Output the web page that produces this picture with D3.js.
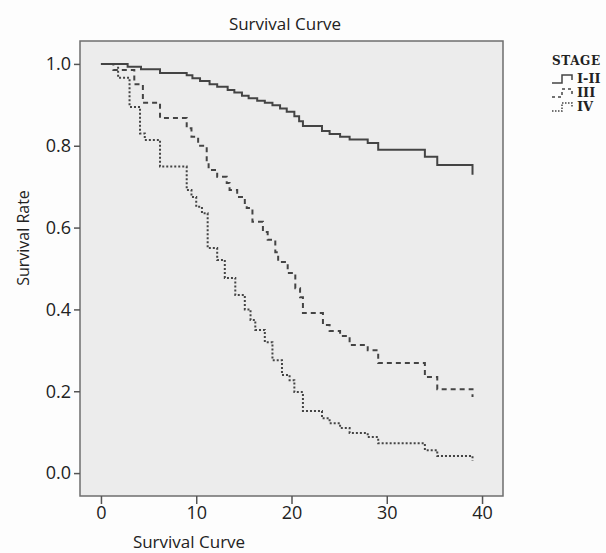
<!DOCTYPE html>
<html>
<head>
<meta charset="utf-8">
<script src="https://cdn.jsdelivr.net/npm/d3@7"></script>
<style>
  body { margin: 0; background: #fdfdfd; }
  svg { display: block; }
  .tick text { font-family: "Open Sans", sans-serif; font-size: 18px; fill: #222; }
</style>
</head>
<body>
<script>
'use strict';

// chart values
const chartTitle = "Survival Curve";
const xTitle = "Survival Curve";
const yTitle = "Survival Rate";
const xTicks = [0, 10, 20, 30, 40];
const yTicks = [0.0, 0.2, 0.4, 0.6, 0.8, 1.0];
const legendTitle = "STAGE";
const stages = ["I-II", "III", "IV"];

// stage I-II (solid)
const timeI = [0, 2.8, 4.2, 6.2, 9.0, 9.6, 10.4, 11.4, 12.2, 13.3, 14.0, 14.8, 15.5, 16.4, 17.2, 18.0, 18.8, 19.5, 20.3, 20.8, 21.2, 23.2, 24.0, 25.1, 26.1, 28.0, 29.1, 34.0, 35.3, 39.0];
const survI = [1.0, 0.993, 0.987, 0.978, 0.972, 0.965, 0.958, 0.950, 0.944, 0.936, 0.930, 0.922, 0.916, 0.910, 0.905, 0.899, 0.891, 0.883, 0.872, 0.860, 0.848, 0.836, 0.829, 0.822, 0.815, 0.807, 0.790, 0.773, 0.753, 0.729];

// stage III (dashed)
const timeIII = [0, 1.3, 3.5, 4.4, 6.2, 9.0, 9.5, 10.2, 11.1, 11.3, 12.2, 13.2, 13.5, 14.3, 15.1, 15.3, 15.9, 17.0, 17.5, 18.3, 18.6, 19.6, 20.4, 20.9, 21.2, 23.3, 24.0, 25.1, 26.1, 28.0, 29.1, 34.0, 35.3, 39.0];
const survIII = [1.0, 0.985, 0.95, 0.905, 0.868, 0.843, 0.822, 0.80, 0.76, 0.741, 0.724, 0.709, 0.692, 0.675, 0.66, 0.648, 0.614, 0.589, 0.570, 0.540, 0.516, 0.489, 0.452, 0.43, 0.391, 0.362, 0.347, 0.335, 0.313, 0.30, 0.269, 0.235, 0.205, 0.186];

// stage IV (dotted)
const timeIV = [0, 1.8, 3.0, 4.1, 4.6, 6.2, 9.0, 9.5, 10.0, 10.6, 11.2, 12.2, 13.0, 14.1, 15.1, 15.7, 16.2, 17.2, 18.0, 19.0, 19.8, 20.3, 21.2, 23.2, 24.0, 25.1, 26.1, 28.0, 29.1, 34.0, 35.3, 39.0];
const survIV = [1.0, 0.966, 0.895, 0.83, 0.814, 0.749, 0.692, 0.675, 0.651, 0.635, 0.55, 0.521, 0.477, 0.435, 0.40, 0.374, 0.35, 0.32, 0.276, 0.24, 0.227, 0.198, 0.152, 0.134, 0.122, 0.11, 0.098, 0.088, 0.073, 0.056, 0.042, 0.03];

(function () {
  const W = 606, H = 553;
  const plot = { left: 80, top: 41, right: 503, bottom: 496 };
  const ink = "#444";

  const svg = d3.select("body").append("svg")
    .attr("width", W)
    .attr("height", H);

  // scales (axis extends a bit past the data range, like the SPSS frame)
  const x = d3.scaleLinear().domain([-2.2, 42.2]).range([plot.left, plot.right]);
  const y = d3.scaleLinear().domain([-0.056, 1.056]).range([plot.bottom, plot.top]);

  // plot background + frame
  svg.append("rect")
    .attr("x", plot.left)
    .attr("y", plot.top)
    .attr("width", plot.right - plot.left)
    .attr("height", plot.bottom - plot.top)
    .attr("fill", "#ececec")
    .attr("stroke", "#6e6e6e")
    .attr("stroke-width", 1.5);

  // y axis
  const yAxis = svg.append("g")
    .attr("transform", "translate(" + plot.left + ",0)")
    .call(d3.axisLeft(y).tickValues(yTicks).tickSize(6).tickPadding(3).tickFormat(d3.format(".1f")));
  yAxis.select(".domain").remove();
  yAxis.selectAll(".tick line").attr("stroke", "#555").attr("stroke-width", 1.5);

  // x axis
  const xAxis = svg.append("g")
    .attr("transform", "translate(0," + plot.bottom + ")")
    .call(d3.axisBottom(x).tickValues(xTicks).tickSize(8).tickPadding(2));
  xAxis.select(".domain").remove();
  xAxis.selectAll(".tick line").attr("stroke", "#555").attr("stroke-width", 1.5);

  // series
  const series = [
    { name: stages[0], t: timeI, s: survI, dash: null },
    { name: stages[1], t: timeIII, s: survIII, dash: "5,4" },
    { name: stages[2], t: timeIV, s: survIV, dash: "2,2" }
  ];

  const line = d3.line()
    .x((d) => x(d[0]))
    .y((d) => y(d[1]))
    .curve(d3.curveStepAfter);

  series.forEach((ser) => {
    let pts = ser.t.map((t, i) => [t, ser.s[i]]);
    svg.append("path")
      .datum(pts)
      .attr("fill", "none")
      .attr("stroke", ink)
      .attr("stroke-width", 2)
      .attr("stroke-dasharray", ser.dash)
      .attr("d", line);
  });

  // titles
  svg.append("text")
    .attr("x", 285)
    .attr("y", 30)
    .attr("text-anchor", "middle")
    .style("font-family", "'Open Sans', sans-serif")
    .style("font-size", "17px")
    .attr("fill", "#222")
    .text(chartTitle);

  svg.append("text")
    .attr("x", 189)
    .attr("y", 548)
    .attr("text-anchor", "middle")
    .style("font-family", "'Open Sans', sans-serif")
    .style("font-size", "17px")
    .attr("fill", "#222")
    .text(xTitle);

  svg.append("text")
    .attr("transform", "translate(29, 238)rotate(-90)")
    .attr("text-anchor", "middle")
    .style("font-family", "'Open Sans', sans-serif")
    .style("font-size", "16px")
    .attr("fill", "#222")
    .text(yTitle);

  // legend
  const lg = svg.append("g").attr("transform", "translate(552, 0)");
  lg.append("text")
    .attr("x", 0)
    .attr("y", 65)
    .style("font-family", "'DejaVu Serif', serif")
    .style("font-weight", "bold")
    .style("font-size", "12px")
    .style("letter-spacing", "0.6px")
    .attr("fill", "#222")
    .text(legendTitle);

  series.forEach((ser, i) => {
    let base = 83 + i * 14;
    lg.append("path")
      .attr("d", "M0," + base + "H10V" + (base - 8) + "H20V" + (base - 3))
      .attr("fill", "none")
      .attr("stroke", ink)
      .attr("stroke-width", 1.5)
      .attr("stroke-dasharray", ser.dash ? (i === 1 ? "3,3" : "1.5,1.5") : null);
    lg.append("text")
      .attr("x", 25)
      .attr("y", base)
      .style("font-family", "'DejaVu Serif', serif")
      .style("font-weight", "bold")
      .style("font-size", "13px")
      .attr("fill", "#222")
      .text(ser.name);
  });
})();
</script>
</body>
</html>
